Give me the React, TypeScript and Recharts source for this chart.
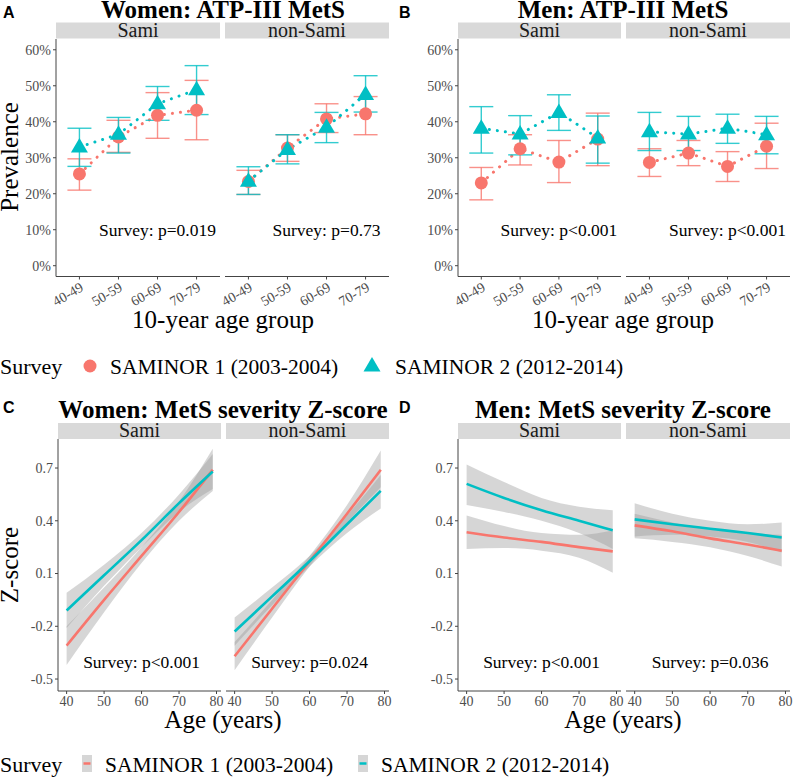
import React from "react";
import {
  Area,
  ComposedChart,
  ErrorBar,
  Line,
  ReferenceDot,
  Scatter,
  XAxis,
  YAxis,
} from "recharts";

const SERIF = "'Liberation Serif', 'Times New Roman', serif";
const SANS = "'Liberation Sans', Arial, sans-serif";
const RED = "#F8766D";
const TEAL = "#00BFC4";
const AXIS = "#444444";
const TICK = "#4D4D4D";

// ---- ATP-III MetS prevalence (%), point + 95% CI ----
const ageGroups = ["40-49", "50-59", "60-69", "70-79"];
const prevTicks = [0, 10, 20, 30, 40, 50, 60];

const womenSamiS1 = [25.5, 35.8, 41.8, 43.2];
const womenSamiS1Lo = [21.0, 31.5, 35.4, 35.0];
const womenSamiS1Hi = [29.7, 40.4, 48.1, 51.5];
const womenSamiS2 = [33.0, 36.5, 45.0, 48.9];
const womenSamiS2Lo = [27.6, 31.3, 40.4, 42.0];
const womenSamiS2Hi = [38.2, 41.2, 49.8, 55.6];

const womenNonS1 = [23.4, 32.7, 40.8, 42.2];
const womenNonS1Lo = [19.8, 29.0, 37.0, 36.4];
const womenNonS1Hi = [26.5, 36.4, 45.0, 47.0];
const womenNonS2 = [23.5, 32.3, 38.5, 47.6];
const womenNonS2Lo = [19.8, 28.3, 34.2, 42.7];
const womenNonS2Hi = [27.5, 36.4, 42.6, 52.8];

const menSamiS1 = [23.0, 32.5, 28.8, 35.2];
const menSamiS1Lo = [18.3, 28.0, 23.1, 27.8];
const menSamiS1Hi = [27.3, 36.4, 34.8, 42.4];
const menSamiS2 = [38.2, 36.6, 42.6, 35.5];
const menSamiS2Lo = [31.3, 30.8, 37.6, 28.5];
const menSamiS2Hi = [44.2, 41.7, 47.5, 41.6];

const menNonS1 = [28.7, 31.3, 27.6, 33.2];
const menNonS1Lo = [24.8, 27.8, 23.4, 27.0];
const menNonS1Hi = [32.5, 34.8, 31.7, 39.6];
const menNonS2 = [37.2, 36.6, 38.2, 36.4];
const menNonS2Lo = [32.0, 32.0, 34.0, 31.1];
const menNonS2Hi = [42.6, 41.5, 42.1, 41.5];

// ---- MetS severity Z-score, linear fits + 95% bands ----
const zAges = [40, 50, 60, 70, 79];
const zTicks = [-0.5, -0.2, 0.1, 0.4, 0.7];
const ageTicks = [40, 50, 60, 70, 80];

const wSamiFit1 = [-0.31, -0.05, 0.2, 0.45, 0.69];
const wSamiLo1 = [-0.42, -0.12, 0.16, 0.4, 0.57];
const wSamiHi1 = [-0.2, 0.02, 0.25, 0.51, 0.81];
const wSamiFit2 = [-0.11, 0.09, 0.29, 0.5, 0.68];
const wSamiLo2 = [-0.21, 0.03, 0.25, 0.45, 0.58];
const wSamiHi2 = [-0.01, 0.15, 0.33, 0.55, 0.78];

const wNonFit1 = [-0.37, -0.1, 0.17, 0.44, 0.69];
const wNonLo1 = [-0.45, -0.15, 0.14, 0.39, 0.59];
const wNonHi1 = [-0.29, -0.05, 0.2, 0.49, 0.8];
const wNonFit2 = [-0.23, -0.03, 0.17, 0.38, 0.57];
const wNonLo2 = [-0.31, -0.08, 0.14, 0.33, 0.47];
const wNonHi2 = [-0.15, 0.02, 0.2, 0.43, 0.66];

const mSamiFit1 = [0.335, 0.305, 0.28, 0.25, 0.226];
const mSamiLo1 = [0.24, 0.245, 0.23, 0.19, 0.105];
const mSamiHi1 = [0.43, 0.37, 0.33, 0.32, 0.345];
const mSamiFit2 = [0.61, 0.53, 0.46, 0.4, 0.346];
const mSamiLo2 = [0.49, 0.45, 0.4, 0.33, 0.24];
const mSamiHi2 = [0.72, 0.62, 0.53, 0.48, 0.46];

const mNonFit1 = [0.374, 0.34, 0.3, 0.265, 0.23];
const mNonLo1 = [0.3, 0.28, 0.25, 0.2, 0.14];
const mNonHi1 = [0.44, 0.39, 0.35, 0.33, 0.32];
const mNonFit2 = [0.408, 0.38, 0.355, 0.33, 0.305];
const mNonLo2 = [0.31, 0.32, 0.31, 0.28, 0.22];
const mNonHi2 = [0.5, 0.44, 0.4, 0.38, 0.39];

// layout
const PA_TOP = 38.5;
const PA_H = 237.5;
const ZC_TOP = 439;
const ZC_H = 252;

const tickStyle = { fill: TICK, fontSize: 14, fontFamily: SERIF };

const Circle = (p: any) => <circle cx={p.cx} cy={p.cy} r={6.5} fill={RED} />;
const Triangle = (p: any) => (
  <polygon
    points={`${p.cx},${p.cy - 9} ${p.cx - 8.5},${p.cy + 5.5} ${p.cx + 8.5},${p.cy + 5.5}`}
    fill={TEAL}
  />
);
const Nothing = () => <g />;

function PrevFacet(props: {
  left: number;
  width: number;
  showY: boolean;
  s1: number[];
  s1lo: number[];
  s1hi: number[];
  s2: number[];
  s2lo: number[];
  s2hi: number[];
  p: string;
}) {
  const { left, width, showY, s1, s1lo, s1hi, s2, s2lo, s2hi, p } = props;
  const data = ageGroups.map((g, i) => ({
    x: i + 1,
    s1: s1[i],
    s2: s2[i],
    e1: [s1[i] - s1lo[i], s1hi[i] - s1[i]],
    e2: [s2[i] - s2lo[i], s2hi[i] - s2[i]],
  }));
  const yw = showY ? 45 : 0;
  const ml = showY ? 0 : 40;
  const mr = 10;
  return (
    <div style={{ position: "absolute", left: left - yw - ml, top: PA_TOP }}>
      <ComposedChart
        width={ml + yw + width + mr}
        height={PA_H + 45}
        data={data}
        margin={{ top: 0, right: mr, bottom: 0, left: ml }}
      >
        <XAxis
          dataKey="x"
          type="number"
          domain={[0.4, 4.6]}
          ticks={[1, 2, 3, 4]}
          interval={0}
          tickFormatter={(v) => ageGroups[Number(v) - 1]}
          angle={-30}
          textAnchor="end"
          height={45}
          tick={tickStyle}
          tickSize={3}
          tickLine={{ stroke: AXIS }}
          axisLine={{ stroke: AXIS }}
          allowDataOverflow
        />
        <YAxis
          type="number"
          domain={[-3, 63]}
          ticks={prevTicks}
          interval={0}
          tickFormatter={(v) => `${v}%`}
          hide={!showY}
          width={yw}
          tick={tickStyle}
          tickSize={3}
          tickLine={{ stroke: AXIS }}
          axisLine={{ stroke: AXIS }}
          allowDataOverflow
        />
        <Line dataKey="s1" stroke={RED} strokeWidth={3} strokeDasharray="0.1 8" strokeLinecap="round" dot={false} isAnimationActive={false} />
        <Line dataKey="s2" stroke={TEAL} strokeWidth={3} strokeDasharray="0.1 8" strokeLinecap="round" dot={false} isAnimationActive={false} />
        <Scatter dataKey="s1" shape={Circle} isAnimationActive={false} />
        <Scatter dataKey="s2" shape={Triangle} isAnimationActive={false} />
        <Scatter dataKey="s1" shape={Nothing} isAnimationActive={false}>
          <ErrorBar dataKey="e1" direction="y" width={12} stroke={RED} strokeWidth={1.4} strokeOpacity={0.8} isAnimationActive={false} />
        </Scatter>
        <Scatter dataKey="s2" shape={Nothing} isAnimationActive={false}>
          <ErrorBar dataKey="e2" direction="y" width={12} stroke={TEAL} strokeWidth={1.4} strokeOpacity={0.8} isAnimationActive={false} />
        </Scatter>
        <ReferenceDot
          x={3}
          y={10}
          r={0}
          fill="none"
          stroke="none"
          label={{ value: p, position: "center", fill: "#000", fontSize: 17.5, fontFamily: SERIF }}
        />
      </ComposedChart>
    </div>
  );
}

function ZFacet(props: {
  left: number;
  width: number;
  showY: boolean;
  f1: number[];
  lo1: number[];
  hi1: number[];
  f2: number[];
  lo2: number[];
  hi2: number[];
  p: string;
}) {
  const { left, width, showY, f1, lo1, hi1, f2, lo2, hi2, p } = props;
  const data = zAges.map((a, i) => ({
    age: a,
    f1: f1[i],
    b1: [lo1[i], hi1[i]],
    f2: f2[i],
    b2: [lo2[i], hi2[i]],
  }));
  const yw = showY ? 45 : 0;
  const ml = showY ? 0 : 10;
  const mr = 10;
  return (
    <div style={{ position: "absolute", left: left - yw - ml, top: ZC_TOP }}>
      <ComposedChart
        width={ml + yw + width + mr}
        height={ZC_H + 30}
        data={data}
        margin={{ top: 0, right: mr, bottom: 0, left: ml }}
      >
        <XAxis
          dataKey="age"
          type="number"
          domain={[37.7, 81.2]}
          ticks={ageTicks}
          interval={0}
          height={30}
          tick={tickStyle}
          tickSize={3}
          tickLine={{ stroke: AXIS }}
          axisLine={{ stroke: AXIS }}
          allowDataOverflow
        />
        <YAxis
          type="number"
          domain={[-0.568, 0.865]}
          ticks={zTicks}
          interval={0}
          hide={!showY}
          width={yw}
          tick={tickStyle}
          tickSize={3}
          tickLine={{ stroke: AXIS }}
          axisLine={{ stroke: AXIS }}
          allowDataOverflow
        />
        <Area dataKey="b1" type="monotone" fill="#999999" fillOpacity={0.4} stroke="none" isAnimationActive={false} />
        <Line dataKey="f1" type="monotone" stroke={RED} strokeWidth={2.6} dot={false} isAnimationActive={false} />
        <Area dataKey="b2" type="monotone" fill="#999999" fillOpacity={0.4} stroke="none" isAnimationActive={false} />
        <Line dataKey="f2" type="monotone" stroke={TEAL} strokeWidth={2.6} dot={false} isAnimationActive={false} />
        <ReferenceDot
          x={60}
          y={-0.4}
          r={0}
          fill="none"
          stroke="none"
          label={{ value: p, position: "center", fill: "#000", fontSize: 17.5, fontFamily: SERIF }}
        />
      </ComposedChart>
    </div>
  );
}

function Strip({ x1, x2, y, h, label }: { x1: number; x2: number; y: number; h: number; label: string }) {
  return (
    <g>
      <rect x={x1} y={y} width={x2 - x1} height={h} fill="#D9D9D9" />
      <text x={(x1 + x2) / 2} y={y + h - 2} textAnchor="middle" fontSize={20} fill="#1A1A1A" fontFamily={SERIF}>
        {label}
      </text>
    </g>
  );
}

export default function App() {
  return (
    <div style={{ position: "absolute", left: 0, top: 0, width: 793, height: 781, background: "#fff", fontFamily: SERIF }}>
      <PrevFacet left={56} width={164} showY s1={womenSamiS1} s1lo={womenSamiS1Lo} s1hi={womenSamiS1Hi} s2={womenSamiS2} s2lo={womenSamiS2Lo} s2hi={womenSamiS2Hi} p="Survey: p=0.019" />
      <PrevFacet left={225} width={164} showY={false} s1={womenNonS1} s1lo={womenNonS1Lo} s1hi={womenNonS1Hi} s2={womenNonS2} s2lo={womenNonS2Lo} s2hi={womenNonS2Hi} p="Survey: p=0.73" />
      <PrevFacet left={458} width={163} showY s1={menSamiS1} s1lo={menSamiS1Lo} s1hi={menSamiS1Hi} s2={menSamiS2} s2lo={menSamiS2Lo} s2hi={menSamiS2Hi} p="Survey: p<0.001" />
      <PrevFacet left={626} width={164} showY={false} s1={menNonS1} s1lo={menNonS1Lo} s1hi={menNonS1Hi} s2={menNonS2} s2lo={menNonS2Lo} s2hi={menNonS2Hi} p="Survey: p<0.001" />

      <ZFacet left={58} width={163} showY f1={wSamiFit1} lo1={wSamiLo1} hi1={wSamiHi1} f2={wSamiFit2} lo2={wSamiLo2} hi2={wSamiHi2} p="Survey: p<0.001" />
      <ZFacet left={226} width={163} showY={false} f1={wNonFit1} lo1={wNonLo1} hi1={wNonHi1} f2={wNonFit2} lo2={wNonLo2} hi2={wNonHi2} p="Survey: p=0.024" />
      <ZFacet left={458} width={163} showY f1={mSamiFit1} lo1={mSamiLo1} hi1={mSamiHi1} f2={mSamiFit2} lo2={mSamiLo2} hi2={mSamiHi2} p="Survey: p<0.001" />
      <ZFacet left={626} width={164} showY={false} f1={mNonFit1} lo1={mNonLo1} hi1={mNonHi1} f2={mNonFit2} lo2={mNonLo2} hi2={mNonHi2} p="Survey: p=0.036" />

      <svg width={793} height={781} style={{ position: "absolute", left: 0, top: 0, pointerEvents: "none" }} fontFamily={SERIF}>
        {/* panel letters */}
        <text x={3} y={18} fontFamily={SANS} fontWeight="bold" fontSize={16}>A</text>
        <text x={399} y={18} fontFamily={SANS} fontWeight="bold" fontSize={16}>B</text>
        <text x={3} y={413} fontFamily={SANS} fontWeight="bold" fontSize={16}>C</text>
        <text x={399} y={413} fontFamily={SANS} fontWeight="bold" fontSize={16}>D</text>

        {/* titles */}
        <text x={223} y={18} textAnchor="middle" fontWeight="bold" fontSize={25}>Women: ATP-III MetS</text>
        <text x={623} y={18} textAnchor="middle" fontWeight="bold" fontSize={25}>Men: ATP-III MetS</text>
        <text x={223} y={418} textAnchor="middle" fontWeight="bold" fontSize={25}>Women: MetS severity Z-score</text>
        <text x={623} y={418} textAnchor="middle" fontWeight="bold" fontSize={25}>Men: MetS severity Z-score</text>

        {/* facet strips */}
        <Strip x1={56} x2={220} y={22.5} h={16} label="Sami" />
        <Strip x1={225} x2={389} y={22.5} h={16} label="non-Sami" />
        <Strip x1={458} x2={621} y={22.5} h={16} label="Sami" />
        <Strip x1={626} x2={790} y={22.5} h={16} label="non-Sami" />
        <Strip x1={58} x2={221} y={423} h={16} label="Sami" />
        <Strip x1={226} x2={389} y={423} h={16} label="non-Sami" />
        <Strip x1={458} x2={621} y={423} h={16} label="Sami" />
        <Strip x1={626} x2={790} y={423} h={16} label="non-Sami" />

        {/* axis titles */}
        <text transform="translate(18,157) rotate(-90)" textAnchor="middle" fontSize={25}>Prevalence</text>
        <text transform="translate(18,565) rotate(-90)" textAnchor="middle" fontSize={25}>Z-score</text>
        <text x={223} y={328} textAnchor="middle" fontSize={25}>10-year age group</text>
        <text x={623} y={328} textAnchor="middle" fontSize={25}>10-year age group</text>
        <text x={223} y={728} textAnchor="middle" fontSize={25}>Age (years)</text>
        <text x={623} y={728} textAnchor="middle" fontSize={25}>Age (years)</text>

        {/* legend, top row */}
        <text x={0} y={374} fontSize={22}>Survey</text>
        <circle cx={90} cy={366} r={6.5} fill={RED} />
        <text x={110} y={374} fontSize={21.5}>SAMINOR 1 (2003-2004)</text>
        <polygon points="372,357 363.5,371.5 380.5,371.5" fill={TEAL} />
        <text x={395} y={374} fontSize={21.5}>SAMINOR 2 (2012-2014)</text>

        {/* legend, bottom row */}
        <text x={0} y={772} fontSize={22}>Survey</text>
        <rect x={82} y={755} width={10} height={17} fill="#D6D6D6" />
        <line x1={83.5} x2={90.5} y1={763.5} y2={763.5} stroke={RED} strokeWidth={2.5} />
        <text x={105} y={772} fontSize={21.5}>SAMINOR 1 (2003-2004)</text>
        <rect x={358} y={755} width={10} height={17} fill="#D6D6D6" />
        <line x1={359.5} x2={366.5} y1={763.5} y2={763.5} stroke={TEAL} strokeWidth={2.5} />
        <text x={381} y={772} fontSize={21.5}>SAMINOR 2 (2012-2014)</text>
      </svg>
    </div>
  );
}
